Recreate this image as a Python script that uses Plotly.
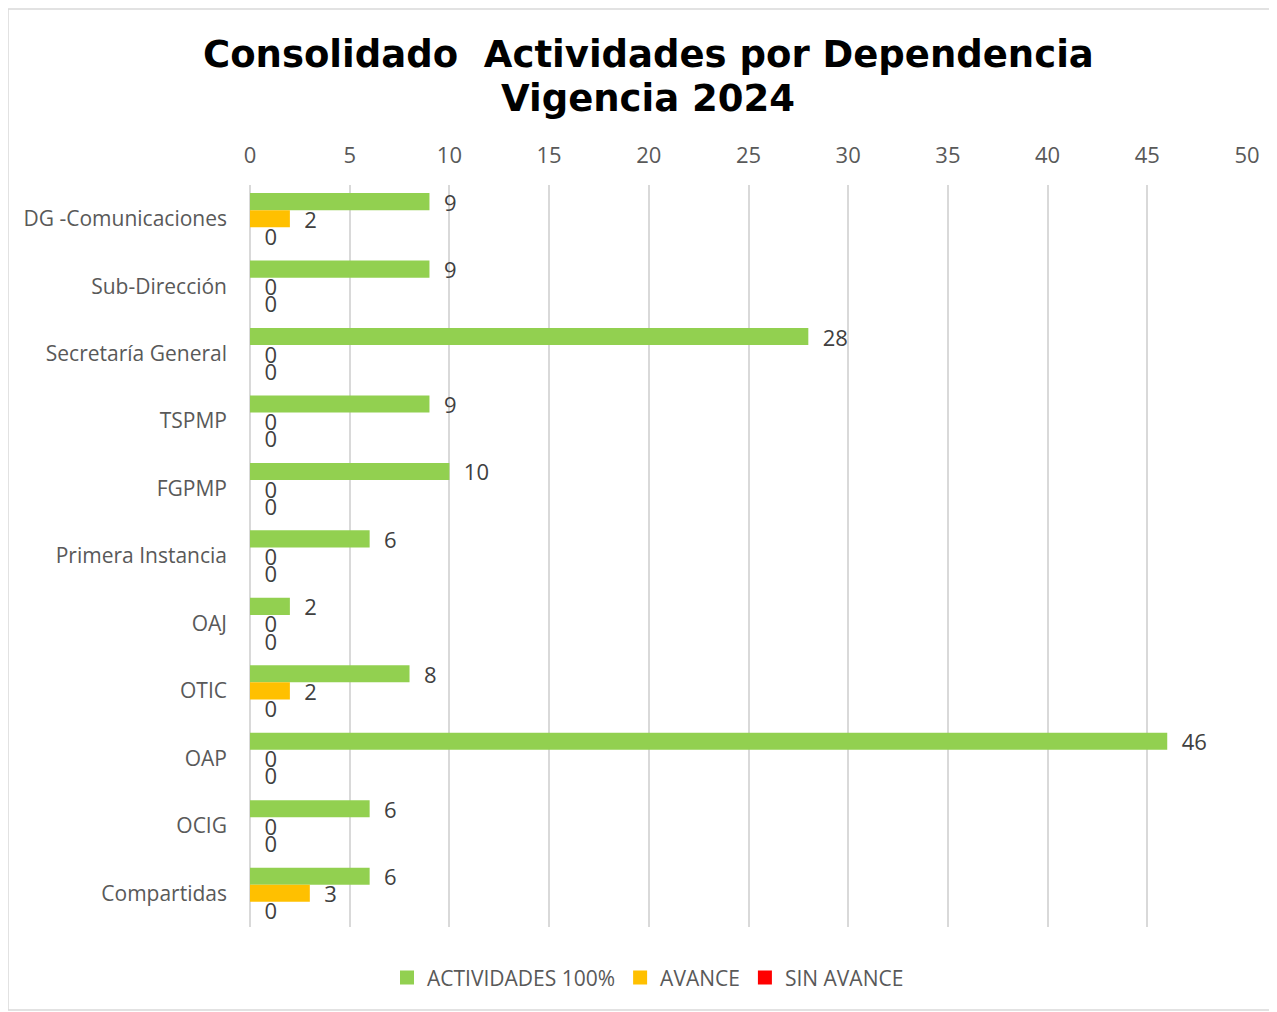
import plotly.graph_objects as go

# datos del gráfico
dependencias = ['DG -Comunicaciones', 'Sub-Dirección', 'Secretaría General', 'TSPMP', 'FGPMP',
                'Primera Instancia', 'OAJ', 'OTIC', 'OAP', 'OCIG', 'Compartidas']
actividades_100 = [9, 9, 28, 9, 10, 6, 2, 8, 46, 6, 6]
avance = [2, 0, 0, 0, 0, 0, 0, 2, 0, 0, 3]
sin_avance = [0, 0, 0, 0, 0, 0, 0, 0, 0, 0, 0]

series = [
    ('ACTIVIDADES 100%', actividades_100, '#92D050'),
    ('AVANCE', avance, '#FFC000'),
    ('SIN AVANCE', sin_avance, '#FF0000'),
]

fig = go.Figure()
for nombre, valores, color in series:
    fig.add_trace(go.Bar(
        y=dependencias, x=valores, name=nombre, orientation='h',
        marker=dict(color=color, line=dict(width=0)),
        text=['\u00a0\u00a0' + str(v) for v in valores],
        textposition='outside', cliponaxis=False, constraintext='none',
        textfont=dict(size=22, color='#404040'), showlegend=False,
    ))

# leyenda con cuadros más grandes
for nombre, valores, color in series:
    fig.add_trace(go.Scatter(
        x=[None], y=[None], mode='markers', name=nombre,
        marker=dict(symbol='square', size=14, color=color),
    ))

# centro del título en coordenadas de papel (área de trazado: 250-1247 x 185-927)
def px_x(p):
    return (p - 250) / 997

def px_y(p):
    return (927 - p) / 742

fig.update_layout(
    width=1277, height=1012,
    barmode='group', bargap=0.24, bargroupgap=0,
    paper_bgcolor='white', plot_bgcolor='white',
    margin=dict(l=242, r=38, t=177, b=93),
    font=dict(family='Open Sans', color='#595959', size=20),
    annotations=[
        dict(text='<b>Consolidado\u00a0 Actividades por Dependencia</b>', xref='paper', yref='paper',
             x=px_x(648), y=px_y(54), xanchor='center', yanchor='middle', showarrow=False,
             font=dict(family='DejaVu Sans', size=37, color='black')),
        dict(text='<b>Vigencia 2024</b>', xref='paper', yref='paper',
             x=px_x(648), y=px_y(98), xanchor='center', yanchor='middle', showarrow=False,
             font=dict(family='DejaVu Sans', size=37, color='black')),
    ],
    xaxis=dict(side='top', range=[0, 50], dtick=5, showgrid=True,
               gridcolor='#D9D9D9', gridwidth=2, zeroline=True,
               zerolinecolor='#D9D9D9', zerolinewidth=2,
               ticklabelstandoff=17, tickfont=dict(size=22, color='#595959')),
    yaxis=dict(autorange='reversed', showgrid=False, ticklabelstandoff=22,
               tickfont=dict(size=21, color='#595959')),
    legend=dict(orientation='h', x=px_x(648), xanchor='center', y=-0.041, yanchor='top',
                font=dict(size=21, color='#595959'), itemwidth=30,
                traceorder='normal'),
    shapes=[dict(type='rect', xref='paper', yref='paper',
                 x0=px_x(8), x1=px_x(1290),
                 y0=px_y(1010), y1=px_y(9),
                 line=dict(color='#D9D9D9', width=1.5))],
)

fig.write_html('out.html')
